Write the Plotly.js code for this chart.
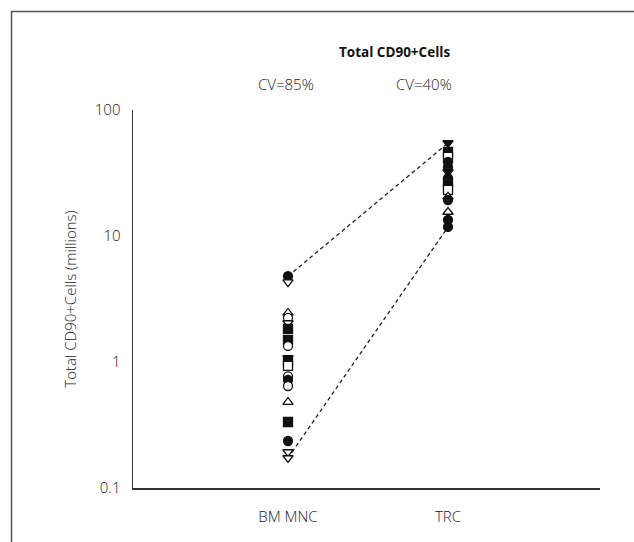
<!DOCTYPE html>
<html>
<head>
<meta charset="utf-8">
<script src="https://cdn.plot.ly/plotly-3.0.1.min.js"></script>
<style>
html,body{margin:0;padding:0;background:#fff;overflow:hidden;}
#chart{width:634px;height:542px;}
</style>
</head>
<body>
<div id="chart"></div>
<script>
// ---- data ----
const categories = ["BM MNC", "TRC"];
const cvLabels = ["CV=85%", "CV=40%"];

// BM MNC values (millions) and marker styles
const bmValues  = [4.8, 4.3, 2.45, 2.24, 2.04, 1.83, 1.50, 1.34, 1.08, 1.0, 0.93, 0.77, 0.72, 0.645, 0.48, 0.334, 0.236, 0.193, 0.173];
const bmSymbols = ["circle","triangle-down","triangle-up","circle","triangle-down","square","square","circle","triangle-down","square","square","circle","circle","circle","triangle-up","square","circle","triangle-down","triangle-down"];
const bmFilled  = [true,false,false,false,false,true,true,false,true,true,false,false,true,false,false,true,true,false,false];

// TRC values (millions) and marker styles
const trcValues  = [54.7, 46.4, 42.4, 38.7, 35.2, 32.2, 28.8, 26.4, 23.2, 20.5, 19.3, 15.5, 13.4, 11.8];
const trcSymbols = ["triangle-down","square","square","circle","circle","triangle-down","circle","square","square","triangle-up","circle","triangle-up","circle","circle"];
const trcFilled  = [true,true,false,true,true,true,true,true,false,false,true,false,true,true];

// range envelope (dashed lines): max-to-max and min-to-min
const upperLine = [4.8, 54.7];
const lowerLine = [0.173, 11.8];

// ---- helpers ----
const L = 133, R = 600, T = 110, B = 488;
const px2x = p => (p - L) / (R - L);
const px2y = p => (B - p) / (B - T);

const font = "Open Sans, Noto Sans, DejaVu Sans, sans-serif";
const txt = "#222";

const traces = [
  {x:[0,1], y:upperLine, mode:"lines", line:{color:"#222", width:1.3, dash:"4px,3px"}, hoverinfo:"skip", showlegend:false},
  {x:[0,1], y:lowerLine, mode:"lines", line:{color:"#222", width:1.3, dash:"4px,3px"}, hoverinfo:"skip", showlegend:false},
  {x:bmValues.map(()=>0), y:bmValues, mode:"markers", showlegend:false,
   marker:{symbol:bmSymbols, size:9, color:bmFilled.map(f=>f?"#111":"#fff"), line:{color:"#111", width:1.3}}},
  {x:trcValues.map(()=>1), y:trcValues, mode:"markers", showlegend:false,
   marker:{symbol:trcSymbols, size:9, color:trcFilled.map(f=>f?"#111":"#fff"), line:{color:"#111", width:1.3}}}
];

const layout = {
  width:634, height:542,
  margin:{l:L, r:634-R, t:T, b:542-B, pad:0},
  paper_bgcolor:"#fff", plot_bgcolor:"#fff",
  font:{family:font, color:txt, size:15, weight:300},
  showlegend:false,
  xaxis:{
    range:[(L-288)/160, (R-288)/160],
    tickvals:[0,1], ticktext:categories,
    showgrid:false, zeroline:false, showline:true, linecolor:"#333", linewidth:1.5,
    ticks:"", ticklabelstandoff:14, tickfont:{size:15, color:txt, weight:300}, fixedrange:true
  },
  yaxis:{
    type:"log", range:[-1,2],
    tickvals:[0.1,1,10,100], ticktext:["0.1","1","10","100"],
    showgrid:false, zeroline:false, showline:true, linecolor:"#333", linewidth:1.5,
    ticks:"", ticklabelstandoff:8, tickfont:{size:15, color:txt, weight:300},
    title:{text:"Total CD90+Cells (millions)", font:{size:15, color:txt, weight:300}, standoff:14},
    fixedrange:true
  },
  annotations:[
    {xref:"paper", yref:"paper", x:px2x(394), y:px2y(52), text:"<b>Total CD90+Cells</b>", showarrow:false, font:{size:13.5, color:"#111"}, xanchor:"center", yanchor:"middle"},
    {xref:"paper", yref:"paper", x:px2x(286), y:px2y(84), text:cvLabels[0], showarrow:false, font:{size:15, color:txt, weight:300}, xanchor:"center", yanchor:"middle"},
    {xref:"paper", yref:"paper", x:px2x(424), y:px2y(84), text:cvLabels[1], showarrow:false, font:{size:15, color:txt, weight:300}, xanchor:"center", yanchor:"middle"}
  ],
  shapes:[
    {type:"rect", xref:"paper", yref:"paper", x0:px2x(11.5), x1:px2x(700), y0:px2y(700), y1:px2y(11.5), line:{color:"#555", width:1.5}, fillcolor:"rgba(0,0,0,0)", layer:"below"}
  ]
};

Plotly.newPlot("chart", traces, layout, {displayModeBar:false, staticPlot:true});
</script>
</body>
</html>
